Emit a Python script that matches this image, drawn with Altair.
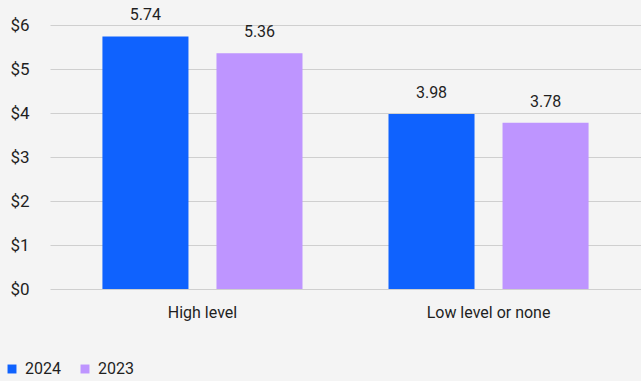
import altair as alt
import pandas as pd

categories = ["High level", "High level", "Low level or none", "Low level or none"]
years = ["2024", "2023", "2024", "2023"]
values = [5.74, 5.36, 3.98, 3.78]

df = pd.DataFrame({"category": categories, "year": years, "value": values})

FONT = "Roboto"
TEXT = "#1f1f1f"

x = alt.X("category:N", title=None, sort=["High level", "Low level or none"],
          scale=alt.Scale(paddingInner=0, paddingOuter=0.033),
          axis=alt.Axis(labelAngle=0, ticks=False, domain=False, labelPadding=15,
                        labelFontSize=16, labelFont=FONT, labelColor=TEXT))
xo = alt.XOffset("year:N", sort=["2024", "2023"],
                 scale=alt.Scale(paddingInner=0.2456, paddingOuter=0.377))

bars = alt.Chart(df).mark_bar().encode(
    x=x, xOffset=xo,
    y=alt.Y("value:Q", title=None,
            scale=alt.Scale(domain=[0, 6], nice=False),
            axis=alt.Axis(values=[0, 1, 2, 3, 4, 5, 6], format="$d", ticks=False,
                          domain=False, labelPadding=21, gridColor="#cfcfcf",
                          labelFontSize=17, labelFont=FONT, labelColor=TEXT)),
    color=alt.Color("year:N", sort=["2024", "2023"],
                    scale=alt.Scale(domain=["2024", "2023"], range=["#0f62fe", "#be95ff"]),
                    legend=alt.Legend(title=None, orient="none", legendX=-46, legendY=336,
                                      direction="horizontal", symbolType="square",
                                      symbolSize=80, symbolOpacity=1, symbolStrokeWidth=0,
                                      labelFontSize=16, labelFont=FONT, labelColor=TEXT,
                                      columnPadding=16, labelOffset=5)),
)

labels = alt.Chart(df).mark_text(dy=-21, fontSize=16, font=FONT, color=TEXT).encode(
    x=alt.X("category:N", sort=["High level", "Low level or none"]),
    xOffset=alt.XOffset("year:N", sort=["2024", "2023"]),
    y="value:Q",
    text=alt.Text("value:Q", format=".2f"),
)

chart = (bars + labels).properties(
    width=591, height=264,
    autosize=alt.AutoSizeParams(type="none"),
    padding={"left": 50, "top": 25, "right": 0, "bottom": 92},
    background="#f4f4f4",
).configure_view(stroke=None)

chart.save("out.html", embed_options={"renderer": "svg", "actions": False})
